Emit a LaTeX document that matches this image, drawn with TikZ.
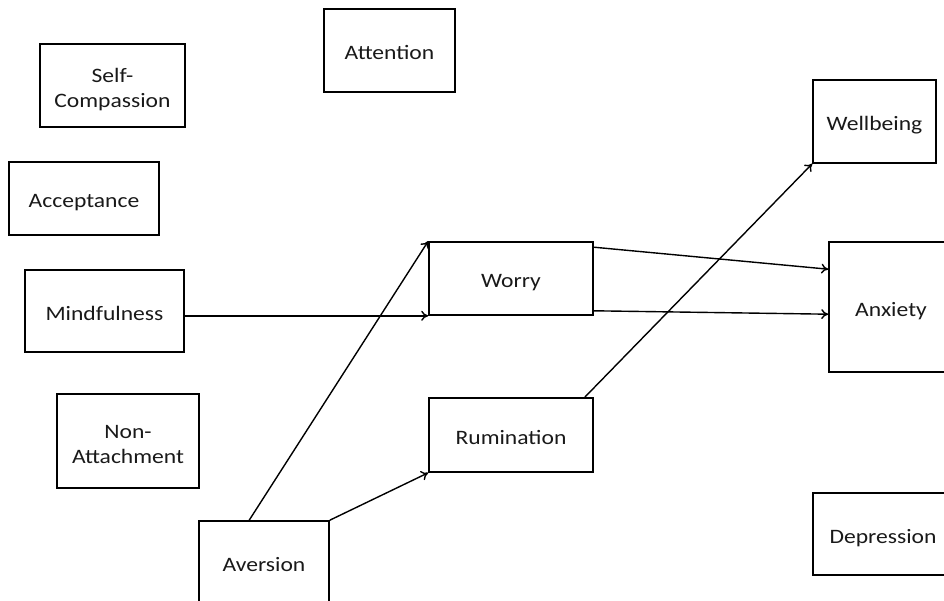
\documentclass[tikz,border=0pt]{standalone}
\usepackage{fontspec}
\setmainfont{Carlito}[FakeStretch=1.15]
\usetikzlibrary{arrows.meta}
\begin{document}
\begin{tikzpicture}[x=1pt,y=-1pt,
  box/.style={draw=black,line width=1.6pt,inner sep=0pt,align=center,
    text=black!90,font=\fontsize{20.5}{25}\selectfont},
  word/.style={box,text height=19pt,text depth=0pt},
  twoline/.style={box,text height=48pt},
  link/.style={draw=black,line width=1.4pt,-{To[length=7pt,width=10pt]}}]
\clip (0,0) rectangle (944,601);
\useasboundingbox (0,0) rectangle (944,601);
% factor boxes
\node[twoline,minimum width=145pt,minimum height=83pt] (selfc) at (112.5,85.5) {Self-\\Compassion};
\node[word,minimum width=131pt,minimum height=83pt] (attn) at (389.5,50.5) {Attention};
\node[word,minimum width=150pt,minimum height=73pt] (accept) at (84,198.5) {Acceptance};
\node[word,minimum width=159pt,minimum height=82pt] (mind) at (104.5,311) {Mindfulness};
\node[twoline,text height=46pt,minimum width=142pt,minimum height=94pt] (nonatt) at (128,441) {Non-\\Attachment};
\node[word,text height=12pt,minimum width=130pt,minimum height=88pt] (aver) at (264,565) {Aversion};
% mediators
\node[word,minimum width=164pt,minimum height=73pt] (worry) at (511,278.5) {Worry};
\node[word,minimum width=164pt,minimum height=74pt] (rum) at (511,435) {Rumination};
% outcomes
\node[word,minimum width=123pt,minimum height=83pt] (well) at (874.5,121.5) {Wellbeing};
\node[word,minimum width=124pt,minimum height=130pt] (anx) at (891,307) {Anxiety};
\node[word,minimum width=140pt,minimum height=82pt] (dep) at (883,534) {Depression};
% paths
\draw[link] (mind.east |- worry.south west) -- (worry.south west);
\draw[link] ([xshift=51pt]aver.north west) -- (worry.north west);
\draw[link] (aver.north east) -- (rum.south west);
\draw[link] ([xshift=-9pt]rum.north east) -- (well.south west);
\draw[link] ([yshift=-6pt]worry.north east) -- ([yshift=-28pt]anx.north west);
\draw[link] ([yshift=5pt]worry.south east) -- ([yshift=-73pt]anx.north west);
\end{tikzpicture}
\end{document}
